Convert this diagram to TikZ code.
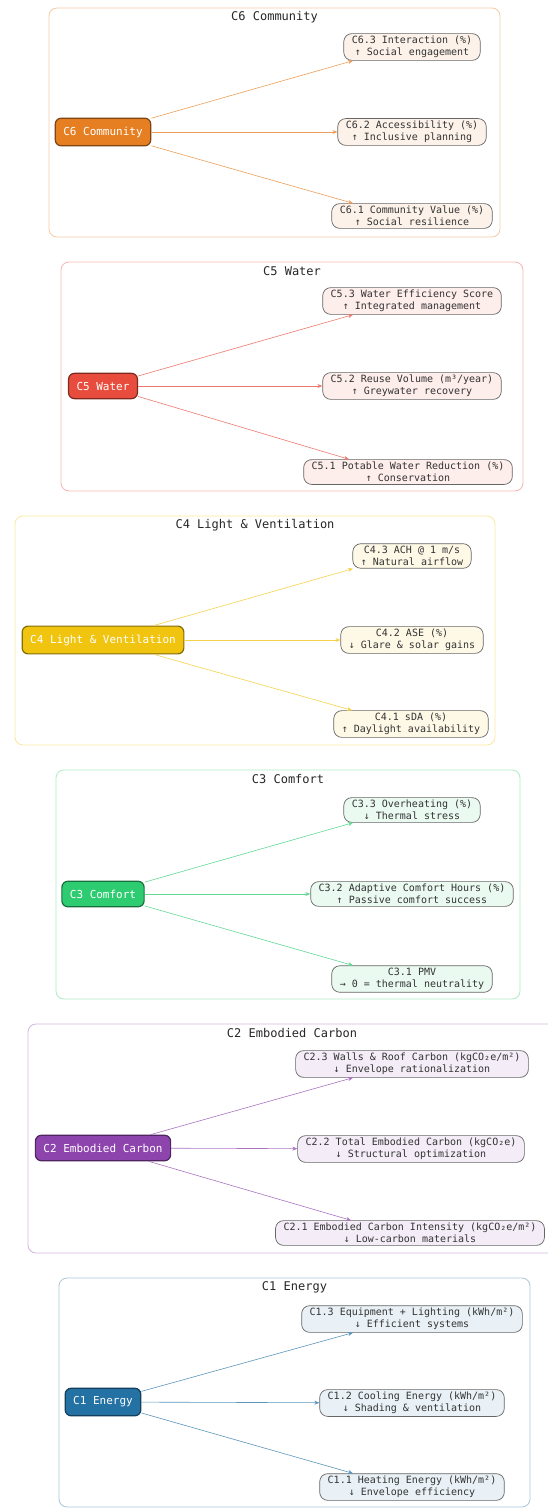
\documentclass[tikz,border=0pt]{standalone}
\usepackage{fontspec}
\setmonofont{DejaVu Sans Mono}
\usetikzlibrary{arrows.meta}

\definecolor{col6}{HTML}{E67E22}
\definecolor{col5}{HTML}{E74C3C}
\definecolor{col4}{HTML}{F1C40F}
\definecolor{col3}{HTML}{2ECC71}
\definecolor{col2}{HTML}{8E44AD}
\definecolor{col1}{HTML}{2471A3}

\tikzset{
  hub/.style={draw=col#1!55!black, fill=col#1, line width=1.2pt, rounded corners=6pt,
    text=white, font=\ttfamily\fontsize{11}{13}\selectfont, inner xsep=8pt, inner ysep=8.5pt},
  leaf/.style={draw=black!60, fill=col#1!10, line width=0.7pt, rounded corners=8pt,
    align=center, text=black!80, font=\ttfamily\fontsize{10}{12}\selectfont,
    inner xsep=8pt, inner ysep=2.5pt},
  cluster/.style={draw=col#1!40, line width=0.8pt, rounded corners=8pt},
  title/.style={text=black!85, font=\ttfamily\fontsize{12}{14}\selectfont},
  link/.style={draw=col#1!75, line width=0.6pt, -{Stealth[length=5pt,width=4pt]}},
}

\begin{document}
\begin{tikzpicture}[x=1pt, y=-1pt]
  \useasboundingbox (0,0) rectangle (547,1509);

  % frames and titles
  \foreach \c/\xa/\xb/\name in {6/49/500/C6 Community, 5/61/523/C5 Water,
      4/15/495/C4 Light \& Ventilation, 3/56/520/C3 Comfort,
      2/28/556/C2 Embodied Carbon, 1/59/530/C1 Energy} {
    \pgfmathsetmacro{\ym}{132+(6-\c)*254}
    \draw[cluster=\c] (\xa,\ym-124) rectangle (\xb,\ym+105);
    \node[title] (t\c) at ({(\xa+\xb)/2},\ym-115) {\name};
  }

  % C6
  \node[hub=6] (c6) at (103,132) {C6 Community};
  \node[leaf=6] (c63) at (412,47) {C6.3 Interaction (\%)\\↑ Social engagement};
  \node[leaf=6] (c62) at (412,132) {C6.2 Accessibility (\%)\\↑ Inclusive planning};
  \node[leaf=6] (c61) at (412,216) {C6.1 Community Value (\%)\\↑ Social resilience};

  % C5
  \node[hub=5] (c5) at (103,386) {C5 Water};
  \node[leaf=5] (c53) at (412,301) {C5.3 Water Efficiency Score\\↑ Integrated management};
  \node[leaf=5] (c52) at (412,386) {C5.2 Reuse Volume (m³/year)\\↑ Greywater recovery};
  \node[leaf=5] (c51) at (408,472) {C5.1 Potable Water Reduction (\%)\\↑ Conservation};

  % C4
  \node[hub=4] (c4) at (103,640) {C4 Light \& Ventilation};
  \node[leaf=4] (c43) at (412,556) {C4.3 ACH @ 1 m/s\\↑ Natural airflow};
  \node[leaf=4] (c42) at (412,640) {C4.2 ASE (\%)\\↓ Glare \& solar gains};
  \node[leaf=4] (c41) at (411,724) {C4.1 sDA (\%)\\↑ Daylight availability};

  % C3
  \node[hub=3] (c3) at (103,894) {C3 Comfort};
  \node[leaf=3] (c33) at (412,810) {C3.3 Overheating (\%)\\↓ Thermal stress};
  \node[leaf=3] (c32) at (412,894) {C3.2 Adaptive Comfort Hours (\%)\\↑ Passive comfort success};
  \node[leaf=3] (c31) at (412,979) {C3.1 PMV\\→ 0 = thermal neutrality};

  % C2
  \node[hub=2] (c2) at (103,1148) {C2 Embodied Carbon};
  \node[leaf=2] (c23) at (412,1064) {C2.3 Walls \& Roof Carbon (kgCO₂e/m²)\\↓ Envelope rationalization};
  \node[leaf=2] (c22) at (411,1149) {C2.2 Total Embodied Carbon (kgCO₂e)\\↓ Structural optimization};
  \node[leaf=2] (c21) at (410,1233) {C2.1 Embodied Carbon Intensity (kgCO₂e/m²)\\↓ Low-carbon materials};

  % C1
  \node[hub=1] (c1) at (103,1402) {C1 Energy};
  \node[leaf=1] (c13) at (412,1319) {C1.3 Equipment + Lighting (kWh/m²)\\↓ Efficient systems};
  \node[leaf=1] (c12) at (412,1403) {C1.2 Cooling Energy (kWh/m²)\\↓ Shading \& ventilation};
  \node[leaf=1] (c11) at (412,1487) {C1.1 Heating Energy (kWh/m²)\\↓ Envelope efficiency};

  \foreach \c in {1,...,6} {
    \draw[link=\c] (c\c) -- ([xshift=-59pt]c\c3.south);
    \draw[link=\c] (c\c) -- (c\c2);
    \draw[link=\c] (c\c) -- ([xshift=-59pt]c\c1.north);
  }
\end{tikzpicture}
\end{document}
